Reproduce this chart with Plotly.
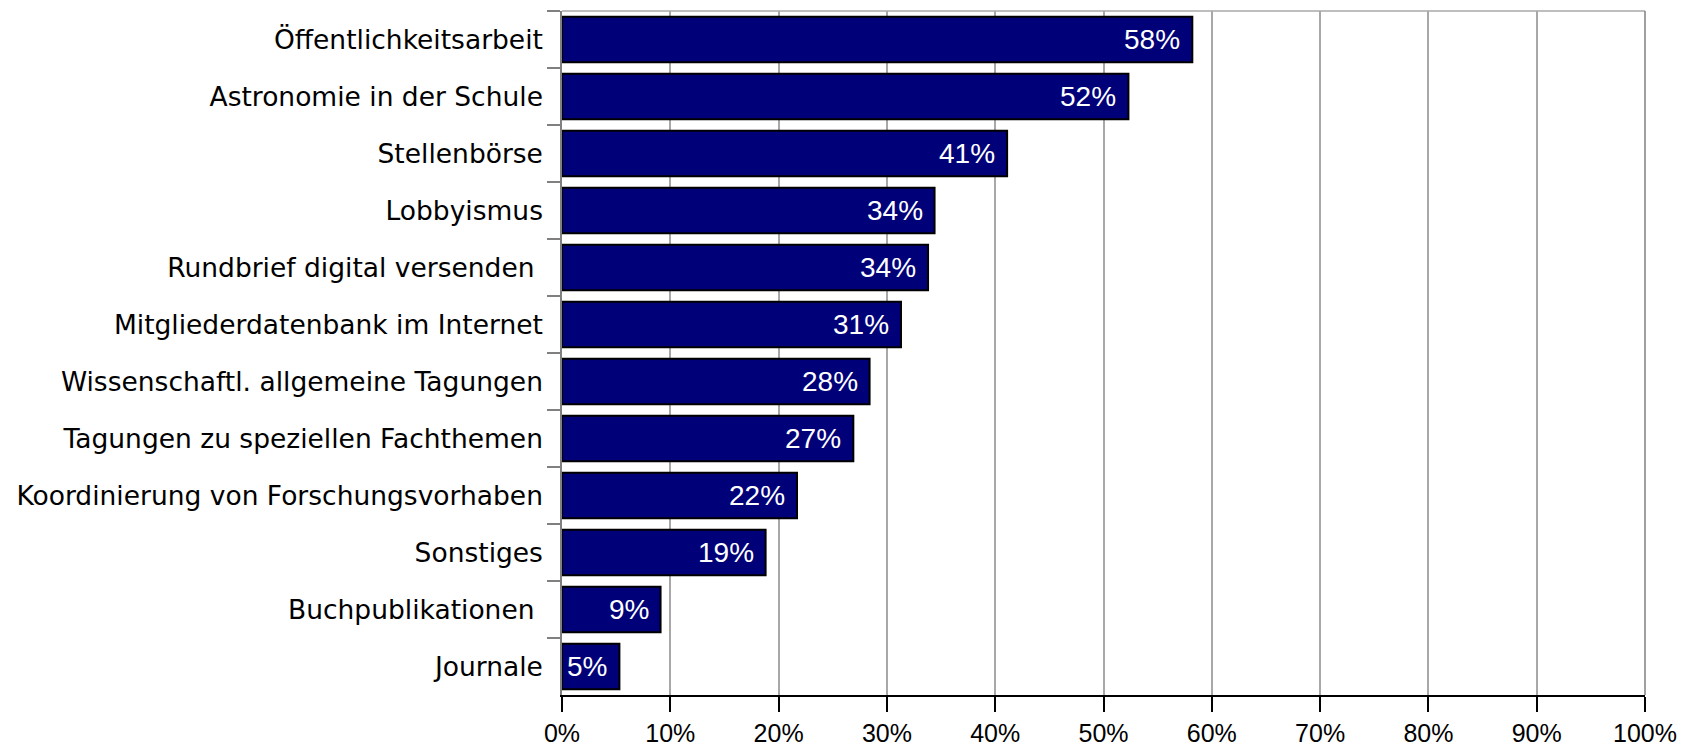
import plotly.graph_objects as go

categories = [
    "Öffentlichkeitsarbeit",
    "Astronomie in der Schule",
    "Stellenbörse",
    "Lobbyismus",
    "Rundbrief digital versenden\u00a0",
    "Mitgliederdatenbank im Internet",
    "Wissenschaftl. allgemeine Tagungen",
    "Tagungen zu speziellen Fachthemen",
    "Koordinierung von Forschungsvorhaben",
    "Sonstiges",
    "Buchpublikationen\u00a0",
    "Journale",
]
values = [58.2, 52.3, 41.1, 34.4, 33.8, 31.3, 28.4, 26.9, 21.7, 18.8, 9.1, 5.3]
labels = ["58%", "52%", "41%", "34%", "34%", "31%", "28%", "27%", "22%", "19%", "9%", "5%"]
x_ticks = list(range(0, 101, 10))
x_ticktext = [f"{t}%" for t in x_ticks]

fig = go.Figure()
fig.add_trace(go.Bar(
    x=values, y=categories, orientation="h",
    marker=dict(color="#000078", line=dict(color="#000000", width=2)),
    hoverinfo="skip",
))

for v, c, t in zip(values, categories, labels):
    fig.add_annotation(x=v, y=c, text=t, showarrow=False, xanchor="right",
                       yanchor="middle", xshift=-10,
                       font=dict(family="Liberation Sans, Arial", size=28, color="white"))

fig.update_layout(
    width=1680, height=738,
    margin=dict(l=554, r=43, t=3, b=51, pad=0),
    paper_bgcolor="white", plot_bgcolor="white",
    bargap=0.2, showlegend=False,
    xaxis=dict(
        range=[0, 100], tickvals=x_ticks, ticktext=x_ticktext,
        showgrid=True, gridcolor="#A8A8A8", gridwidth=1.5,
        showline=True, linecolor="black", linewidth=1.5,
        ticks="outside", ticklen=15, tickcolor="black", tickwidth=1.5,
        tickfont=dict(family="Liberation Sans, Arial", size=25, color="black"),
        ticklabelstandoff=0,
        zeroline=False, fixedrange=True, automargin=False,
    ),
    yaxis=dict(
        range=[11.5, -0.5], type="category",
        showgrid=False, showline=True, linecolor="#808080", linewidth=1.5,
        ticks="outside", tickson="boundaries", ticklen=13, tickcolor="#808080", tickwidth=1.5,
        tickfont=dict(family="DejaVu Sans", size=26.5, color="black"),
        ticklabelstandoff=12,
        zeroline=False, fixedrange=True, automargin=False,
    ),
)
# plot frame: top and right edges
fig.add_shape(type="line", xref="paper", yref="paper", x0=0, x1=1, y0=1, y1=1,
              line=dict(color="#A8A8A8", width=1.5))
fig.add_shape(type="line", xref="paper", yref="paper", x0=1, x1=1, y0=0, y1=1,
              line=dict(color="#808080", width=1.5))

fig.write_html("out.html")
